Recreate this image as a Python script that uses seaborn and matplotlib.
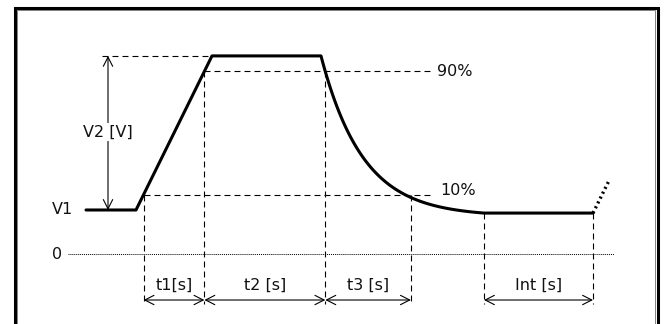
import numpy as np
import pandas as pd
import matplotlib.pyplot as plt
from matplotlib.patches import Rectangle
import seaborn as sns

# Pulse shape (schematic units: x in time units, y in volts)
V1 = 1.0          # base level
V2 = 3.5          # pulse amplitude
V_TAIL = 0.93     # level the decay settles to
T_HOLD = 5.0      # initial hold at V1
T_RISE = 7.6      # 0 -> 100 % ramp
T_TOP = 10.9      # flat top
TAU = 4.2         # decay time constant
T_DECAY = 16.3    # length of the decay part
T_INT = 10.9      # interval before next pulse
T_NEXT = 1.6      # start of next ramp (dotted)

levels = [0.9, 0.1]
level_labels = ["90%", "10%"]
span_labels = ["t1[s]", "t2 [s]", "t3 [s]", "Int [s]"]

sns.set_theme(style="white")
plt.rcParams["font.family"] = ["DejaVu Sans"]
plt.rcParams["text.color"] = "#111111"
plt.rcParams["lines.scale_dashes"] = False

# key times
x_r0 = T_HOLD
x_r1 = x_r0 + T_RISE
x_f0 = x_r1 + T_TOP
x_f1 = x_f0 + T_DECAY
x_e = x_f1 + T_INT
v_top = V1 + V2

# waveform
xs_d = np.linspace(x_f0, x_f1, 120)
e_end = np.exp(-T_DECAY / TAU)
vs_d = V_TAIL + (v_top - V_TAIL) * (np.exp(-(xs_d - x_f0) / TAU) - e_end) / (1 - e_end)
wave = pd.DataFrame({
    "t": np.concatenate([[0, x_r0, x_r1, x_f0], xs_d, [x_e]]),
    "v": np.concatenate([[V1, V1, v_top, v_top], vs_d, [V_TAIL]]),
})
nxt = pd.DataFrame({"t": [x_e, x_e + T_NEXT]})
nxt["v"] = V_TAIL + (nxt["t"] - x_e) * V2 / T_RISE

# level crossings
lv = [V1 + p * V2 for p in levels]
rise_x = [x_r0 + p * T_RISE for p in levels]
fall_x = [x_f0 - TAU * np.log((v - V_TAIL) / (v_top - V_TAIL)) for v in lv]
marks = [rise_x[1], rise_x[0], fall_x[0], fall_x[1], x_f1, x_e]
mark_top = [lv[1], lv[0], lv[0], lv[1], V_TAIL, V_TAIL]
spans = [(marks[0], marks[1]), (marks[1], marks[2]), (marks[2], marks[3]), (marks[4], marks[5])]

fig = plt.figure(figsize=(6.64, 3.24), dpi=100)
ax = fig.add_axes([0, 0, 1, 1])
ax.set_xlim(-8.6, 57.8)
ax.set_ylim(-1.59, 5.77)
ax.axis("off")

dash = (0, (4.3, 2.9))
y_arrow = -1.045
y_bottom = -1.136
fs = 11.5

# zero line
ax.plot([-1.8, 52.8], [0, 0], color="black", lw=0.7, ls=(0, (0.7, 0.7)))
ax.text(-2.4, 0, "0", ha="right", va="center", fontsize=fs)
ax.text(-1.25, V1, "V1", ha="right", va="center", fontsize=fs)

# dashed guides
ax.plot([1.6, x_r1], [v_top, v_top], color="black", lw=0.8, ls=dash)
ax.plot([rise_x[0], 34.6], [lv[0], lv[0]], color="black", lw=0.8, ls=dash)
ax.plot([rise_x[1], 34.6], [lv[1], lv[1]], color="black", lw=0.8, ls=dash)
ax.text(35.1, lv[0], level_labels[0], ha="left", va="center", fontsize=fs)
ax.text(35.4, lv[1] + 0.1, level_labels[1], ha="left", va="center", fontsize=fs)
for xm, ym in zip(marks, mark_top):
    ax.plot([xm, xm], [ym, y_bottom], color="black", lw=0.8, ls=dash)

# waveform
sns.lineplot(data=wave, x="t", y="v", ax=ax, color="black", lw=2.2,
             sort=False, estimator=None)
sns.lineplot(data=nxt, x="t", y="v", ax=ax, color="black", lw=2.4,
             ls=(0, (1.5, 2.4)), estimator=None)

arrow = dict(arrowstyle="<->,head_length=0.55,head_width=0.28",
             color="black", lw=0.8, shrinkA=0, shrinkB=0)

# V2 arrow
ax.annotate("", xy=(2.2, v_top), xytext=(2.2, V1), arrowprops=arrow)
ax.text(2.2, (254 - 132) / 44, "V2 [V]", ha="center", va="center", fontsize=fs,
        bbox=dict(facecolor="white", edgecolor="none", pad=1))

# span arrows
for (a, b), lab in zip(spans, span_labels):
    ax.annotate("", xy=(b, y_arrow), xytext=(a, y_arrow), arrowprops=arrow)
    ax.text((a + b) / 2, -0.7, lab, ha="center", va="center", fontsize=fs)

# frame
fig.patches.append(Rectangle((14.5 / 664, -0.1), 643.5 / 664, 1.1 - 8 / 324,
                             transform=fig.transFigure, fill=False,
                             edgecolor="black", lw=2.2))
fig.patches.append(Rectangle((16.5 / 664, -0.1), 638.5 / 664, 1.1 - 10.5 / 324,
                             transform=fig.transFigure, fill=False,
                             edgecolor="#808080", lw=0.7))

fig.savefig("out.png", dpi=100)
